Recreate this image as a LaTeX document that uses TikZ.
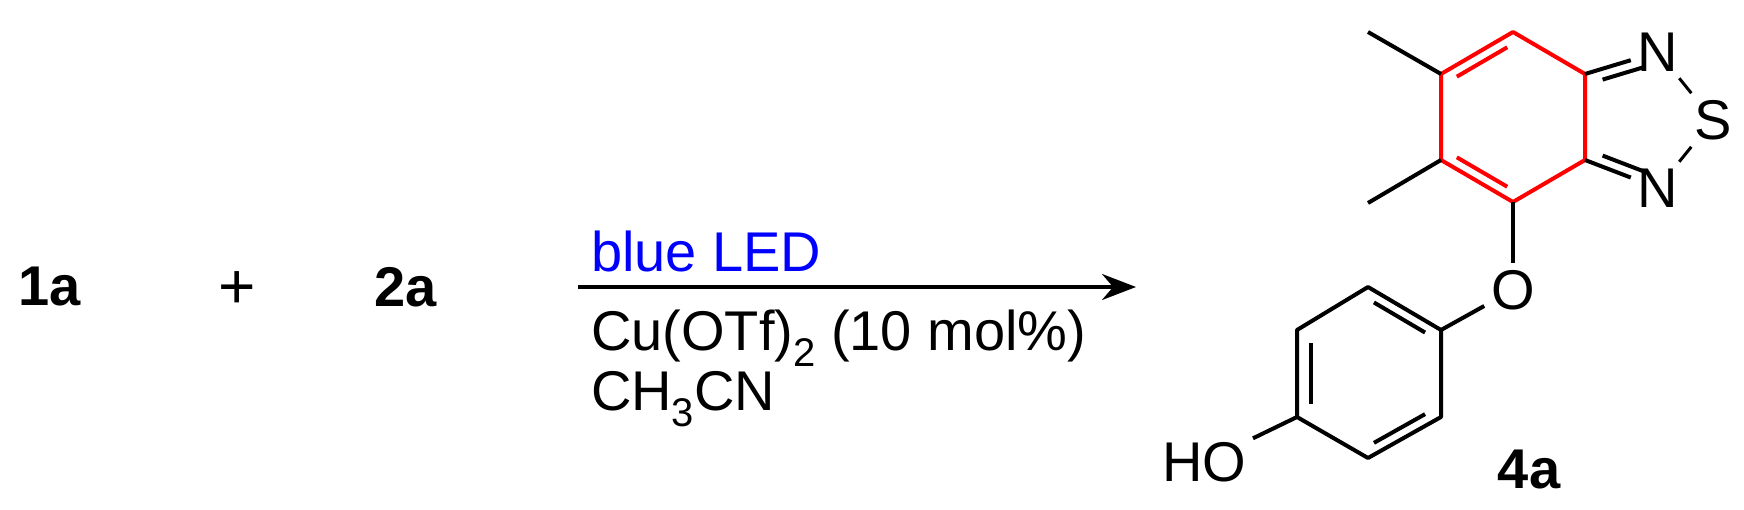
\documentclass[tikz,border=0pt]{standalone}
\usepackage{fontspec}
\setmainfont{Liberation Sans}
\usetikzlibrary{arrows.meta,calc}
\newcommand{\sbs}[1]{\raisebox{-0.3em}{\fontsize{40}{44}\selectfont #1}}
\begin{document}
\begin{tikzpicture}[x=1pt,y=-1pt,line width=4pt,
  txt/.style={font=\fontsize{56}{64}\selectfont,inner sep=0pt},
  bld/.style={font=\fontsize{56}{64}\selectfont\bfseries,inner sep=0pt},
  atom/.style={font=\fontsize{56}{64}\selectfont,inner sep=5pt},
  rb/.style={red}]
\useasboundingbox (0,0) rectangle (1744,510);
\node[bld] (l1) at (50,287) {1a};
\node[txt,font=\fontsize{64}{70}\selectfont\rmfamily] (plus) at (237,290) {+};
\node[bld] (l2) at (406,287) {2a};
\coordinate (as) at (578,287);
\coordinate (ae) at (1136,287);
\draw[-{Stealth[length=34pt,width=26pt]},line width=3.5pt] (as) -- (ae);
\node[txt,anchor=base west,text=blue] (c1) at (589,272) {blue LED};
\node[txt,anchor=base west] (c2) at (589,350) {Cu(OTf)\sbs{2} (10 mol\%)};
\node[txt,anchor=base west] (c3) at (589,410) {CH\sbs{3}CN};
% red ring
\coordinate (r1) at (1513,32);
\coordinate (r2) at (1441,74);
\coordinate (r3) at (1441,160);
\coordinate (r4) at (1513,202);
\coordinate (r5) at (1585,160);
\coordinate (r6) at (1585,74);
\draw[rb,line join=round] (r1)--(r2)--(r3)--(r4)--(r5)--(r6)--cycle;
\draw[rb] ($(r2)!0.15!(r1)+(5,9)$) -- ($(r2)!0.85!(r1)+(5,9)$);
\draw[rb] ($(r3)!0.15!(r4)+(5,-9)$) -- ($(r3)!0.85!(r4)+(5,-9)$);
\coordinate (m1) at (1368,32);
\coordinate (m2) at (1368,203);
\draw (r2) -- (m1);
\draw (r3) -- (m2);
\node[atom] (n1) at (1658,52) {N};
\node[atom] (s) at (1713,120) {S};
\node[atom] (n2) at (1658,188) {N};
\draw (r6) -- (n1);
\draw ($(r6)!0.2!(n1)+(3,10)$) -- ($(r6)!0.75!(n1)+(3,10)$);
\draw (r5) -- (n2);
\draw ($(r5)!0.2!(n2)+(3,-10)$) -- ($(r5)!0.75!(n2)+(3,-10)$);
\draw[line width=3pt] (n1) -- (s);
\draw[line width=3pt] (s) -- (n2);
\node[atom] (o) at (1513,290) {O};
\draw (r4) -- (o);
% phenol
\coordinate (p1) at (1368,287);
\coordinate (p2) at (1441,330);
\coordinate (p3) at (1441,417);
\coordinate (p4) at (1368,458);
\coordinate (p5) at (1297,417);
\coordinate (p6) at (1297,330);
\draw[line join=round] (p1)--(p2)--(p3)--(p4)--(p5)--(p6)--cycle;
\draw ($(p1)!0.15!(p2)+(-5,9)$) -- ($(p1)!0.85!(p2)+(-5,9)$);
\draw ($(p3)!0.15!(p4)+(-5,-9)$) -- ($(p3)!0.85!(p4)+(-5,-9)$);
\draw ($(p5)!0.15!(p6)+(14,0)$) -- ($(p5)!0.85!(p6)+(14,0)$);
\draw (p2) -- (o);
\node[atom] (ho) at (1204,462) {HO};
\draw (p5) -- (ho);
\node[bld] (l4) at (1529,470) {4a};
\end{tikzpicture}
\end{document}
